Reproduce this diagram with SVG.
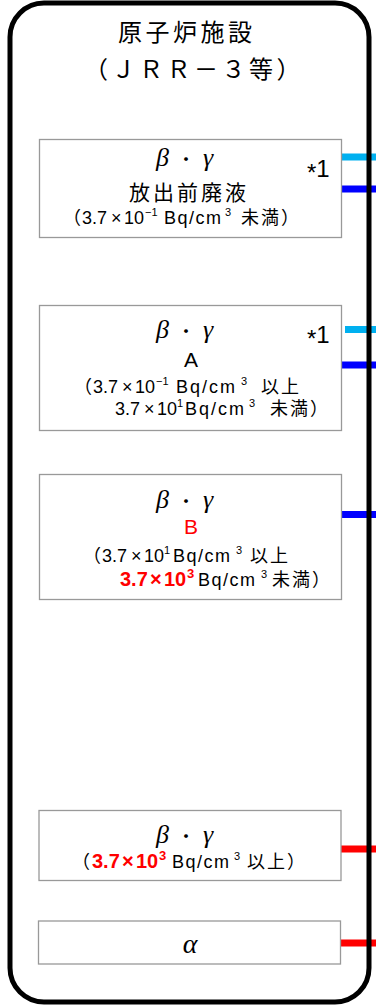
<svg xmlns="http://www.w3.org/2000/svg" width="376" height="1008" viewBox="0 0 376 1008">
<style>
.box{fill:#fff;stroke:#999;stroke-width:1.3}
.t{font-family:"Liberation Sans","Noto Sans CJK JP",sans-serif;font-size:18px;fill:#000}
.j{font-family:"Noto Sans CJK JP",sans-serif;font-size:18px;letter-spacing:2px}
.s{font-size:11px}
.r{fill:#ff0000;font-weight:bold;font-size:20px}
.rs{fill:#ff0000;font-weight:bold;font-size:13px}
.bq{letter-spacing:1.5px}
.gk{font-family:"Liberation Serif",serif;font-style:italic;font-size:26px}
.dot{font-family:"Noto Sans CJK JP",sans-serif;font-size:18px}
.star{font-family:"Liberation Sans",sans-serif;font-size:24px}
.ttl{font-family:"Noto Sans CJK JP",sans-serif;font-size:24px;letter-spacing:3.5px;fill:#000}
.c{fill:none;stroke-width:7}
.lb{stroke:#00b0f0}.bl{stroke:#0000ff}.rd{stroke:#ff0000}
</style>
<rect width="376" height="1008" fill="#fff"/>
<g id="connectors">
<line class="c lb" x1="342" y1="157" x2="376" y2="157"/>
<line class="c bl" x1="342" y1="189" x2="376" y2="189"/>
<line class="c lb" x1="345" y1="329.5" x2="376" y2="329.5"/>
<line class="c bl" x1="342" y1="365" x2="376" y2="365"/>
<line class="c bl" x1="342" y1="514.5" x2="376" y2="514.5"/>
<line class="c rd" x1="340" y1="849" x2="376" y2="849"/>
<line class="c rd" x1="340" y1="943" x2="376" y2="943"/>
</g>
<g id="facility">
<rect x="10" y="3" width="359" height="999" rx="34" ry="34" fill="none" stroke="#000" stroke-width="5"/>
<text class="ttl" x="118" y="41">原子炉施設</text>
<text class="ttl" x="84" y="78">（ＪＲＲ－３等）</text>
</g>
<g id="box1">
<rect class="box" x="39.5" y="139.5" width="302" height="98"/>
<text class="t"><tspan class="gk" x="156" y="166">β</tspan><tspan class="dot" x="177" y="166">・</tspan><tspan class="gk" x="203" y="166">γ</tspan></text>
<text class="star" x="307" y="177"><tspan dy="4">*</tspan><tspan dy="-4">1</tspan></text>
<text class="j" x="129" y="200" style="font-size:21px;letter-spacing:3px">放出前廃液</text>
<text class="t"><tspan class="j" x="63" y="224">（</tspan><tspan x="82" y="224">3.7</tspan><tspan x="111" y="224">×</tspan><tspan x="124" y="224">10</tspan><tspan class="s" x="145" y="216">−1</tspan><tspan class="bq" x="164" y="224">Bq/cm</tspan><tspan class="s" x="225" y="216">3</tspan><tspan class="j" x="241" y="224">未満）</tspan></text>
</g>
<g id="box2">
<rect class="box" x="39.5" y="305.5" width="302" height="125"/>
<text class="t"><tspan class="gk" x="156" y="338">β</tspan><tspan class="dot" x="177" y="338">・</tspan><tspan class="gk" x="203" y="338">γ</tspan></text>
<text class="star" x="307" y="343"><tspan dy="4">*</tspan><tspan dy="-4">1</tspan></text>
<text class="t" x="191" y="367" text-anchor="middle" style="font-size:21px">A</text>
<text class="t"><tspan class="j" x="74" y="393">（</tspan><tspan x="93" y="393">3.7</tspan><tspan x="122" y="393">×</tspan><tspan x="135" y="393">10</tspan><tspan class="s" x="156" y="385">−1</tspan><tspan class="bq" x="176" y="393" style="letter-spacing:2px">Bq/cm</tspan><tspan class="s" x="241" y="385">3</tspan><tspan class="j" x="261" y="393">以上</tspan></text>
<text class="t"><tspan x="115" y="415">3.7</tspan><tspan x="144" y="415">×</tspan><tspan x="157" y="415">10</tspan><tspan class="s" x="177" y="407">1</tspan><tspan class="bq" x="185" y="415" style="letter-spacing:2px">Bq/cm</tspan><tspan class="s" x="249" y="407">3</tspan><tspan class="j" x="270" y="415">未満）</tspan></text>
</g>
<g id="box3">
<rect class="box" x="39.5" y="474.5" width="302" height="125"/>
<text class="t"><tspan class="gk" x="156" y="508">β</tspan><tspan class="dot" x="177" y="508">・</tspan><tspan class="gk" x="203" y="508">γ</tspan></text>
<text class="t" x="191" y="534" text-anchor="middle" style="font-size:21px;fill:#ff0000">B</text>
<text class="t"><tspan class="j" x="83" y="562">（</tspan><tspan x="102" y="562">3.7</tspan><tspan x="131" y="562">×</tspan><tspan x="144" y="562">10</tspan><tspan class="s" x="164" y="554">1</tspan><tspan class="bq" x="173" y="562">Bq/cm</tspan><tspan class="s" x="236" y="554">3</tspan><tspan class="j" x="250" y="562">以上</tspan></text>
<text class="t"><tspan class="r" x="120" y="586">3.7</tspan><tspan class="r" x="150" y="586">×</tspan><tspan class="r" x="164" y="586">10</tspan><tspan class="rs" x="187" y="578">3</tspan><tspan class="bq" x="198" y="586">Bq/cm</tspan><tspan class="s" x="261" y="578">3</tspan><tspan class="j" x="272" y="586">未満）</tspan></text>
</g>
<g id="box4">
<rect class="box" x="39" y="810.5" width="302" height="70"/>
<text class="t"><tspan class="gk" x="156" y="843">β</tspan><tspan class="dot" x="177" y="843">・</tspan><tspan class="gk" x="203" y="843">γ</tspan></text>
<text class="t"><tspan class="j" x="72" y="868">（</tspan><tspan class="r" x="92" y="868">3.7</tspan><tspan class="r" x="122" y="868">×</tspan><tspan class="r" x="136" y="868">10</tspan><tspan class="rs" x="159" y="860">3</tspan><tspan class="bq" x="172" y="868">Bq/cm</tspan><tspan class="s" x="234" y="860">3</tspan><tspan class="j" x="247" y="868">以上）</tspan></text>
</g>
<g id="box5">
<rect class="box" x="38.5" y="921" width="302" height="43"/>
<text class="gk" x="190" y="953" text-anchor="middle" style="font-size:28px">α</text>
</g>
</svg>
